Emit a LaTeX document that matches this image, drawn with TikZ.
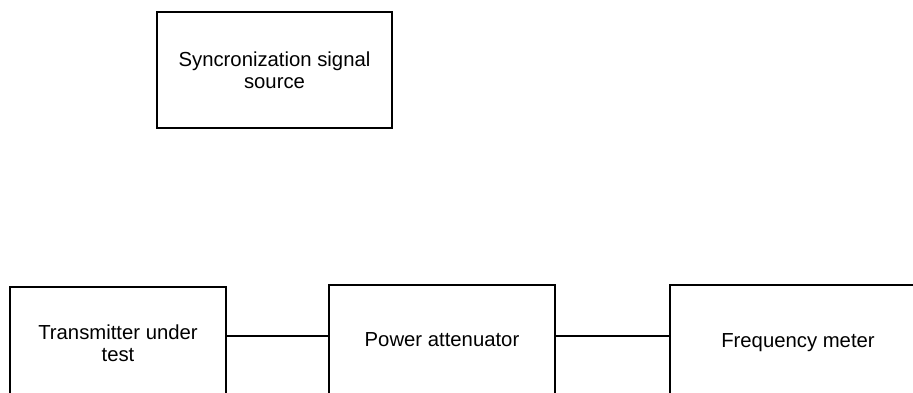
\documentclass[tikz,border=0pt]{standalone}
\usepackage{fontspec}
\setmainfont{Liberation Sans}
\begin{document}
\begin{tikzpicture}[x=1pt,y=-1pt,
  box/.style={draw=black,line width=1.1pt,inner sep=0pt,align=center,
    font=\fontsize{20.3}{22.5}\selectfont},
  oneline/.style={text height=15pt,text depth=5pt},
  conn/.style={draw=black,line width=1.1pt}]
\path[use as bounding box,clip] (0,0) rectangle (913,392);
\node[box,minimum width=235pt,minimum height=116pt] (sync) at (274.5,70)
  {Syncronization signal\\source};
\node[box,minimum width=216pt,minimum height=112.5pt] (tx) at (118,343.25)
  {Transmitter under\\test};
\node[box,oneline,minimum width=226pt,minimum height=112pt] (pa) at (442,341)
  {Power attenuator};
\node[box,oneline,minimum width=256pt,minimum height=114pt] (fm) at (798,342)
  {Frequency meter};
\draw[conn] (tx.east |- 0,336) -- (pa.west |- 0,336);
\draw[conn] (pa.east |- 0,336) -- (fm.west |- 0,336);
\end{tikzpicture}
\end{document}
